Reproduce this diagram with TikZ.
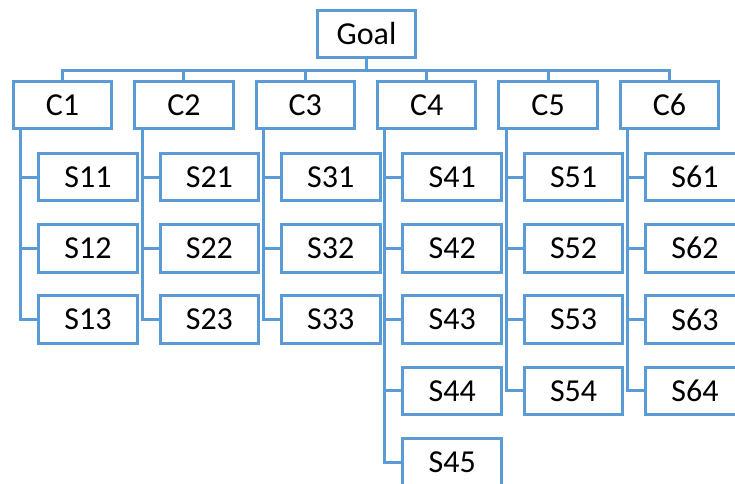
\documentclass[tikz,border=0pt]{standalone}
\usepackage{fontspec}
\setmainfont{Carlito}
\definecolor{treeblue}{RGB}{91,155,213}
\begin{document}
\begin{tikzpicture}[x=1pt,y=-1pt,
  box/.style={draw=treeblue,line width=3pt,fill=white,minimum width=98.5pt,
    minimum height=47.5pt,inner sep=0pt,font=\fontsize{32}{32}\selectfont},
  link/.style={draw=treeblue,line width=3pt,line join=miter}]
\clip (0,0) rectangle (735,483);
\fill[white] (0,0) rectangle (735,483);
% root and bus
\node[box] (G) at (366.5,34) {Goal};
\coordinate (bus) at (366.5,70);
\draw[link] (G.south) -- (bus);
% categories with their sub-items
\foreach \i/\n in {1/3,2/3,3/3,4/5,5/4,6/4}{
  \pgfmathsetmacro{\cx}{62.5+121.4*(\i-1)}
  \pgfmathsetmacro{\sx}{88+121.4*(\i-1)}
  \node[box] (C\i) at (\cx,105) {C\i};
  \draw[link] (C\i.north) |- (bus);
  \foreach \j in {1,...,\n}{
    \pgfmathsetmacro{\sy}{177+71.25*(\j-1)}
    \node[box] (S\i\j) at (\sx,\sy) {S\i\j};
    \draw[link] ([xshift=9pt]C\i.south west) |- (S\i\j.west);
  }
}
\end{tikzpicture}
\end{document}
